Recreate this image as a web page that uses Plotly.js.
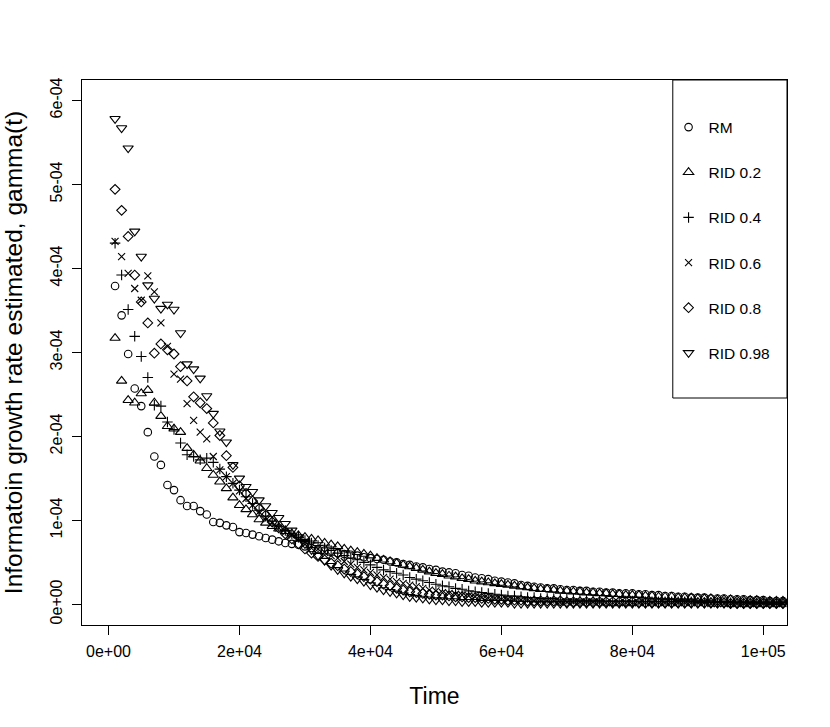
<!DOCTYPE html>
<html>
<head>
<meta charset="utf-8">
<script src="https://cdn.plot.ly/plotly-3.0.1.min.js"></script>
<style>
  body { margin: 0; background: #fff; }
  #chart { width: 830px; height: 727px; }
</style>
</head>
<body>
<div id="chart"></div>
<script>
// gamma(t) estimates (values in units of 1e-4)
var time = [1000,2000,3000,4000,5000,6000,7000,8000,9000,10000,
  11000,12000,13000,14000,15000,16000,17000,18000,19000,20000,
  21000,22000,23000,24000,25000,26000,27000,28000,29000,30000,
  31000,32000,33000,34000,35000,36000,37000,38000,39000,40000,
  41000,42000,43000,44000,45000,46000,47000,48000,49000,50000,
  51000,52000,53000,54000,55000,56000,57000,58000,59000,60000,
  61000,62000,63000,64000,65000,66000,67000,68000,69000,70000,
  71000,72000,73000,74000,75000,76000,77000,78000,79000,80000,
  81000,82000,83000,84000,85000,86000,87000,88000,89000,90000,
  91000,92000,93000,94000,95000,96000,97000,98000,99000,100000,
  101000,102000,103000];

var rm = [3.79,3.44,2.98,2.57,2.36,2.05,1.76,1.66,1.42,1.36,
  1.24,1.17,1.17,1.11,1.07,0.98,0.97,0.94,0.92,0.86,
  0.85,0.83,0.81,0.79,0.77,0.75,0.73,0.72,0.71,0.69,
  0.67,0.65,0.64,0.62,0.61,0.60,0.59,0.58,0.56,0.55,
  0.54,0.53,0.51,0.50,0.48,0.47,0.45,0.44,0.42,0.41,
  0.39,0.38,0.37,0.35,0.34,0.32,0.31,0.30,0.28,0.27,
  0.26,0.25,0.23,0.22,0.21,0.20,0.19,0.19,0.18,0.17,
  0.17,0.16,0.16,0.15,0.15,0.14,0.14,0.13,0.13,0.13,
  0.12,0.12,0.11,0.11,0.10,0.10,0.09,0.09,0.08,0.08,
  0.08,0.07,0.07,0.07,0.06,0.06,0.06,0.05,0.05,0.05,
  0.04,0.04,0.04];

var rid02 = [3.17,2.66,2.43,2.40,2.51,2.55,2.40,2.24,2.12,2.09,
  2.05,1.86,1.78,1.71,1.62,1.54,1.46,1.38,1.27,1.18,
  1.13,1.07,1.01,0.97,0.93,0.90,0.87,0.84,0.82,0.80,
  0.78,0.76,0.73,0.71,0.69,0.66,0.64,0.62,0.60,0.58,
  0.55,0.53,0.51,0.49,0.47,0.45,0.43,0.41,0.39,0.37,
  0.36,0.34,0.33,0.31,0.30,0.28,0.27,0.26,0.25,0.24,
  0.23,0.22,0.21,0.20,0.19,0.18,0.18,0.17,0.16,0.16,
  0.15,0.15,0.14,0.14,0.13,0.13,0.12,0.12,0.11,0.11,
  0.11,0.10,0.10,0.09,0.09,0.09,0.08,0.08,0.08,0.07,
  0.07,0.07,0.06,0.06,0.06,0.05,0.05,0.05,0.05,0.04,
  0.04,0.04,0.04];

var rid04 = [4.30,3.92,3.51,3.19,2.95,2.70,2.37,2.36,2.17,2.08,
  1.92,1.78,1.76,1.72,1.74,1.69,1.61,1.52,1.44,1.36,
  1.28,1.20,1.12,1.05,0.99,0.93,0.88,0.84,0.80,0.76,
  0.73,0.70,0.67,0.64,0.61,0.58,0.55,0.53,0.50,0.47,
  0.44,0.41,0.39,0.37,0.35,0.32,0.30,0.28,0.26,0.24,
  0.22,0.21,0.19,0.18,0.16,0.15,0.14,0.13,0.12,0.11,
  0.10,0.10,0.09,0.08,0.08,0.07,0.07,0.07,0.06,0.06,
  0.06,0.05,0.05,0.05,0.05,0.04,0.04,0.04,0.04,0.04,
  0.03,0.03,0.03,0.03,0.03,0.03,0.03,0.03,0.03,0.02,
  0.02,0.02,0.02,0.02,0.02,0.02,0.02,0.02,0.02,0.02,
  0.02,0.02,0.02];

var rid06 = [4.32,4.14,3.94,3.76,3.62,3.91,3.72,3.35,3.07,2.74,
  2.68,2.39,2.19,2.05,1.97,1.76,1.60,1.52,1.44,1.35,
  1.26,1.18,1.10,1.03,0.97,0.91,0.86,0.82,0.78,0.74,
  0.70,0.66,0.62,0.58,0.55,0.51,0.48,0.44,0.41,0.38,
  0.35,0.32,0.30,0.27,0.25,0.23,0.21,0.19,0.17,0.16,
  0.14,0.13,0.12,0.11,0.10,0.09,0.08,0.07,0.07,0.06,
  0.06,0.05,0.05,0.05,0.04,0.04,0.04,0.04,0.03,0.03,
  0.03,0.03,0.03,0.03,0.03,0.02,0.02,0.02,0.02,0.02,
  0.02,0.02,0.02,0.02,0.02,0.02,0.02,0.02,0.02,0.02,
  0.02,0.01,0.01,0.01,0.01,0.01,0.01,0.01,0.01,0.01,
  0.01,0.01,0.01];

var rid08 = [4.94,4.69,4.38,3.92,3.60,3.35,2.99,3.10,3.03,2.98,
  2.83,2.66,2.47,2.40,2.33,2.16,2.01,1.77,1.63,1.41,
  1.32,1.23,1.14,1.06,0.98,0.91,0.84,0.78,0.72,0.66,
  0.61,0.57,0.53,0.49,0.46,0.42,0.39,0.36,0.33,0.30,
  0.27,0.24,0.22,0.19,0.17,0.15,0.14,0.13,0.12,0.11,
  0.11,0.10,0.09,0.09,0.08,0.08,0.07,0.07,0.06,0.06,
  0.05,0.05,0.05,0.04,0.04,0.04,0.04,0.04,0.04,0.03,
  0.03,0.03,0.03,0.03,0.03,0.03,0.03,0.03,0.03,0.03,
  0.02,0.02,0.02,0.02,0.02,0.02,0.02,0.02,0.02,0.02,
  0.02,0.02,0.02,0.02,0.01,0.01,0.01,0.01,0.01,0.01,
  0.01,0.01,0.01];

var rid098 = [5.78,5.67,5.43,4.44,4.14,3.80,3.64,3.52,3.57,3.51,
  3.23,2.86,2.80,2.69,2.48,2.27,2.06,1.93,1.66,1.50,
  1.40,1.34,1.24,1.17,1.09,1.03,0.96,0.88,0.80,0.72,
  0.65,0.58,0.52,0.46,0.41,0.37,0.33,0.30,0.27,0.23,
  0.20,0.17,0.15,0.13,0.11,0.09,0.08,0.07,0.06,0.05,
  0.05,0.04,0.04,0.03,0.03,0.03,0.02,0.02,0.02,0.02,
  0.02,0.01,0.01,0.01,0.01,0.01,0.01,0.01,0.01,0.01,
  0.01,0.01,0.01,0.01,0.01,0.01,0.01,0.01,0.01,0.01,
  0.01,0.01,0.01,0.01,0.01,0.01,0.01,0.01,0.01,0.01,
  0.01,0.01,0.01,0.01,0.01,0.01,0.01,0.01,0.01,0.01,
  0.01,0.01,0.01];

var UNIT = 1e-4;

var seriesNames = ["RM", "RID 0.2", "RID 0.4", "RID 0.6", "RID 0.8", "RID 0.98"];

var xTickVals = [0, 20000, 40000, 60000, 80000, 100000];
var xTickText = ["0e+00", "2e+04", "4e+04", "6e+04", "8e+04", "1e+05"];
var yTickVals = [0, 1e-4, 2e-4, 3e-4, 4e-4, 5e-4, 6e-4];
var yTickText = ["0e+00", "1e-04", "2e-04", "3e-04", "4e-04", "5e-04", "6e-04"];

var FONT = "Liberation Sans, Arial, Helvetica, sans-serif";

function scaled(arr) {
  return arr.map(function (v) { return v * UNIT; });
}

// one trace per series, R-like open symbols
var styles = [
  { symbol: "circle-open", size: 7.5 },
  { symbol: "triangle-up-open", size: 9 },
  { symbol: "cross-thin-open", size: 7.5 },
  { symbol: "x-thin-open", size: 7 },
  { symbol: "diamond-open", size: 7.5 },
  { symbol: "triangle-down-open", size: 9 }
];
var values = [rm, rid02, rid04, rid06, rid08, rid098];

var data = values.map(function (vals, i) {
  return {
    x: time,
    y: scaled(vals),
    type: "scatter",
    mode: "markers",
    name: seriesNames[i],
    legendgroup: "g" + i,
    marker: {
      symbol: styles[i].symbol,
      size: styles[i].size,
      color: "#000",
      line: { color: "#000", width: 1.1 }
    }
  };
});

var layout = {
  width: 830,
  height: 727,
  margin: { l: 82, r: 43, t: 80, b: 102 },
  paper_bgcolor: "#fff",
  plot_bgcolor: "#fff",
  font: { family: FONT, color: "#000" },
  showlegend: true,
  legend: {
    x: 0.832,
    y: 0.944,
    xanchor: "left",
    yanchor: "top",
    bgcolor: "rgba(0,0,0,0)",
    borderwidth: 0,
    tracegroupgap: 22,
    font: { family: FONT, size: 15.5, color: "#000" }
  },
  xaxis: {
    range: [-4050, 103620],
    tickmode: "array",
    tickvals: xTickVals,
    ticktext: xTickText,
    ticks: "outside",
    ticklen: 9,
    tickwidth: 1,
    tickcolor: "#000",
    ticklabelstandoff: 3,
    tickfont: { family: FONT, size: 16, color: "#000" },
    showline: true,
    mirror: true,
    linecolor: "#000",
    linewidth: 1,
    showgrid: false,
    zeroline: false,
    title: { text: "Time", font: { family: FONT, size: 23, color: "#000" } }
  },
  yaxis: {
    range: [-0.246e-4, 6.242e-4],
    tickmode: "array",
    tickvals: yTickVals,
    ticktext: yTickText,
    tickangle: -90,
    ticks: "outside",
    ticklen: 9,
    tickwidth: 1,
    tickcolor: "#000",
    ticklabelstandoff: 4,
    tickfont: { family: FONT, size: 16, color: "#000" },
    showline: true,
    mirror: true,
    linecolor: "#000",
    linewidth: 1,
    showgrid: false,
    zeroline: false,
    title: {
      text: "Informatoin growth rate estimated, gamma(t)",
      standoff: 22,
      font: { family: FONT, size: 24.5, color: "#000" }
    }
  },
  shapes: [
    {
      type: "rect",
      xref: "paper", yref: "paper",
      x0: 0.838, x1: 1.0, y0: 0.4165, y1: 1.0,
      line: { color: "#000", width: 1 },
      fillcolor: "rgba(0,0,0,0)"
    }
  ]
};

Plotly.newPlot("chart", data, layout, { displayModeBar: false, staticPlot: true });
</script>
</body>
</html>
